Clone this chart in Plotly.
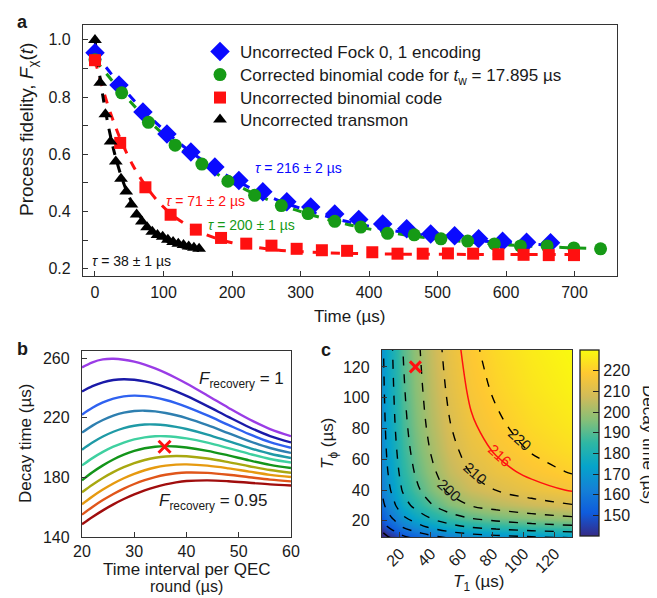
import plotly.graph_objects as go

# ---------------- Panel a data ----------------
fock_t = [0, 35, 70, 105, 140, 175, 210, 245, 280, 315, 350, 385, 420, 455, 490, 525, 560, 595, 630, 665]
fock_f = [0.955, 0.842, 0.748, 0.671, 0.608, 0.556, 0.509, 0.469, 0.434, 0.416, 0.392, 0.372, 0.357, 0.340,
          0.322, 0.316, 0.305, 0.296, 0.293, 0.291]
fock_fit = [0.955, 0.848, 0.755, 0.676, 0.608, 0.551, 0.503, 0.462, 0.428, 0.400, 0.376, 0.356, 0.340, 0.326,
            0.315, 0.306, 0.298, 0.292, 0.287, 0.283]

corr_t = [0, 39, 78, 117, 156, 194, 233, 272, 311, 350, 388, 427, 466, 505, 544, 583, 621, 660, 699, 738]
corr_f = [0.931, 0.815, 0.712, 0.632, 0.566, 0.506, 0.457, 0.421, 0.393, 0.366, 0.346, 0.324, 0.319, 0.305,
          0.297, 0.287, 0.280, 0.280, 0.273, 0.270]
corr_fit = [0.931, 0.818, 0.718, 0.636, 0.567, 0.509, 0.462, 0.423, 0.392, 0.366, 0.345, 0.328, 0.314, 0.303,
            0.294, 0.287, 0.281, 0.277, 0.273, 0.270]

binu_t = [0, 36.8, 73.6, 110.4, 147.2, 184, 220.8, 257.6, 294.4, 331.2, 368, 404.8, 441.6, 478.4, 515.2,
          552, 588.8, 625.6, 662.4, 699.2]
binu_f = [0.929, 0.640, 0.485, 0.389, 0.337, 0.308, 0.288, 0.281, 0.270, 0.265, 0.263, 0.258, 0.253, 0.253,
          0.254, 0.253, 0.251, 0.249, 0.248, 0.248]
binu_fit_t = [0, 10, 20, 30, 40, 55, 70, 90, 110, 130, 150, 175, 200, 250, 300, 400, 500, 600, 700]
binu_fit = [0.930, 0.841, 0.763, 0.696, 0.637, 0.563, 0.504, 0.441, 0.394, 0.359, 0.332, 0.308, 0.291,
            0.270, 0.260, 0.2525, 0.251, 0.250, 0.250]

tmon_t = [0, 7.6, 15.2, 22.8, 30.4, 38, 45.6, 53.2, 60.8, 68.4, 76, 83.6, 91.2, 98.8, 106.4, 114, 121.6,
          129.2, 136.8, 144.4, 152]
tmon_f = [1.0, 0.850, 0.740, 0.645, 0.575, 0.515, 0.470, 0.425, 0.390, 0.365, 0.345, 0.330, 0.318, 0.312,
          0.302, 0.294, 0.288, 0.283, 0.278, 0.274, 0.270]
tmon_fit_t = [0, 5, 10, 15, 20, 25, 30, 40, 50, 60, 75, 90, 110, 130, 152]
tmon_fit = [1.0, 0.9075, 0.826, 0.755, 0.693, 0.6385, 0.5906, 0.5118, 0.451, 0.4047, 0.354, 0.320, 0.291,
            0.2745, 0.2637]

# ---------------- Panel b data ----------------
interval_us = [20, 22, 24, 26, 28, 30, 32, 34, 36, 38, 40, 44, 48, 52, 56, 60]
f_recovery_curves = [
    [253.7, 257.15, 259.07, 259.47, 258.87, 257.54, 255.57, 253.02, 250.01, 246.6, 242.89, 234.89, 226.67, 218.93, 212.36, 207.6],
    [237.5, 241.13, 243.73, 245.28, 245.8, 245.42, 244.33, 242.61, 240.37, 237.67, 234.62, 227.78, 220.54, 213.6, 207.66, 203.4],
    [222.0, 226.61, 230.19, 232.75, 234.29, 234.8, 234.44, 233.42, 231.83, 229.76, 227.28, 221.49, 215.14, 208.95, 203.6, 199.8],
    [210.0, 214.67, 218.45, 221.34, 223.34, 224.45, 224.68, 224.2, 223.16, 221.64, 219.71, 214.98, 209.62, 204.3, 199.68, 196.4],
    [198.5, 203.33, 207.35, 210.57, 212.99, 214.59, 215.4, 215.43, 214.88, 213.85, 212.42, 208.67, 204.24, 199.74, 195.79, 193.0],
    [188.0, 192.88, 197.06, 200.54, 203.33, 205.42, 206.82, 207.51, 207.53, 207.03, 206.1, 203.25, 199.6, 195.75, 192.31, 189.9],
    [178.0, 183.37, 188.02, 191.95, 195.17, 197.68, 199.47, 200.54, 200.9, 200.67, 200.02, 197.76, 194.69, 191.38, 188.4, 186.3],
    [170.0, 175.1, 179.6, 183.5, 186.8, 189.5, 191.6, 193.1, 194.0, 194.3, 194.09, 192.62, 190.22, 187.46, 184.89, 183.1],
    [162.0, 167.2, 171.83, 175.9, 179.41, 182.36, 184.75, 186.58, 187.84, 188.54, 188.69, 187.84, 186.04, 183.81, 181.69, 180.2],
    [155.0, 160.13, 164.75, 168.86, 172.46, 175.53, 178.1, 180.16, 181.7, 182.72, 183.24, 182.97, 181.77, 180.1, 178.46, 177.3],
    [148.5, 153.41, 157.87, 161.88, 165.45, 168.58, 171.25, 173.48, 175.27, 176.61, 177.5, 177.97, 177.4, 176.37, 175.28, 174.5],
]
curve_colors = ["#9a3ce6", "#1a1aa8", "#2f62f0", "#2e7fb0", "#1f9aa6", "#3fd0a0",
                "#13951a", "#a8a810", "#e69a10", "#e0561a", "#a00d0d"]
b_marker_x = [35.8]
b_marker_y = [200.5]

# ---------------- Panel c data ----------------
T1_us = [8, 12, 16, 22, 30, 40, 52, 66, 82, 105, 131]
Tphi_us = [9, 12, 16, 22, 30, 40, 52, 66, 82, 105, 131]
decay_time = [
    [133.0, 138.1, 141.8, 147.2, 151.7, 156.4, 160.7, 163.9, 166.0, 168.2, 170.0],
    [137.9, 143.3, 147.3, 153.2, 158.0, 163.1, 167.8, 171.3, 173.6, 176.1, 178.0],
    [143.8, 149.7, 154.1, 160.5, 165.9, 171.5, 176.7, 180.6, 183.2, 185.9, 188.0],
    [150.2, 156.6, 161.4, 168.5, 174.4, 180.6, 186.3, 190.7, 193.6, 196.6, 199.0],
    [156.1, 163.0, 168.2, 176.0, 182.4, 189.2, 195.5, 200.3, 203.5, 206.8, 209.5],
    [159.9, 167.2, 172.7, 180.9, 187.7, 194.9, 201.6, 206.7, 210.1, 213.7, 216.5],
    [162.1, 169.6, 175.2, 183.7, 190.7, 198.1, 205.1, 210.4, 213.9, 217.6, 220.5],
    [163.7, 171.4, 177.1, 185.7, 192.9, 200.5, 207.7, 213.1, 216.7, 220.5, 223.5],
    [164.9, 172.7, 178.6, 187.3, 194.6, 202.4, 209.6, 215.2, 218.8, 222.7, 225.8],
    [166.1, 174.0, 179.9, 188.8, 196.2, 204.1, 211.5, 217.2, 220.9, 224.9, 228.0],
    [167.0, 175.0, 181.0, 190.0, 197.5, 205.5, 213.0, 218.7, 222.5, 226.5, 229.7],
]
c_marker_x = [30]
c_marker_y = [120]
dashed_levels = (140, 220, 10)
red_level = 216

parula = [[0, "#352a87"], [0.125, "#0f5cdd"], [0.25, "#1481d6"], [0.375, "#06a4ca"],
          [0.5, "#2eb7a4"], [0.625, "#87bf77"], [0.75, "#d1bb59"], [0.875, "#fec832"], [1, "#f9fb0e"]]

FONT = "Liberation Sans, Arial, Helvetica, sans-serif"
FS = 16
BLUE = "#0a0aff"
GREEN = "#169a16"
RED = "#ff1010"
INK = "#1a1a1a"
W, H = 657, 598

fig = go.Figure()

# --- panel a fits ---
for xs, ys, col in [(fock_t, fock_fit, BLUE), (corr_t, corr_fit, GREEN), (binu_fit_t, binu_fit, RED),
                    (tmon_fit_t, tmon_fit, "black")]:
    fig.add_trace(go.Scatter(x=xs, y=ys, mode="lines", line=dict(color=col, dash="dash", width=3, shape="spline"),
                             showlegend=False, hoverinfo="skip"))
# --- panel a markers (each in its own legend row) ---
fig.add_trace(go.Scatter(x=fock_t, y=fock_f, mode="markers", name="Uncorrected Fock 0, 1 encoding",
                         legend="legend", marker=dict(symbol="diamond", size=15, color=BLUE)))
fig.add_trace(go.Scatter(x=corr_t, y=corr_f, mode="markers",
                         name="Corrected binomial code for <i>t</i><sub>w</sub> = 17.895 µs",
                         legend="legend2", marker=dict(symbol="circle", size=13, color=GREEN)))
fig.add_trace(go.Scatter(x=binu_t, y=binu_f, mode="markers", name="Uncorrected binomial code",
                         legend="legend3", marker=dict(symbol="square", size=12, color=RED)))
fig.add_trace(go.Scatter(x=tmon_t, y=tmon_f, mode="markers", name="Uncorrected transmon",
                         legend="legend4", marker=dict(symbol="triangle-up", size=12, color="black")))

# --- panel b ---
for ys, col in zip(f_recovery_curves, curve_colors):
    fig.add_trace(go.Scatter(x=interval_us, y=ys, mode="lines", line=dict(color=col, width=2.4, shape="spline"),
                             xaxis="x2", yaxis="y2", showlegend=False))
fig.add_trace(go.Scatter(x=b_marker_x, y=b_marker_y, mode="markers", xaxis="x2", yaxis="y2", showlegend=False,
                         marker=dict(symbol="x-thin", size=12, line=dict(color=RED, width=3))))

# --- panel c ---
fig.add_trace(go.Heatmap(x=T1_us, y=Tphi_us, z=decay_time, zsmooth="best", colorscale=parula, zmin=140, zmax=230,
                         xaxis="x3", yaxis="y3", showlegend=False,
                         colorbar=dict(x=572 / W, xanchor="left", y=(H - 528) / H, yanchor="bottom",
                                       len=186 / H, lenmode="fraction", thickness=19, thicknessmode="pixels",
                                       outlinewidth=1.3, outlinecolor="#222", xpad=0, ypad=0,
                                       tickvals=[150, 160, 170, 180, 190, 200, 210, 220], ticks="inside",
                                       ticklen=6, tickcolor="#222", tickfont=dict(family=FONT, size=FS, color=INK))))
fig.add_trace(go.Contour(x=T1_us, y=Tphi_us, z=decay_time, xaxis="x3", yaxis="y3", showscale=False, showlegend=False,
                         contours=dict(start=dashed_levels[0], end=dashed_levels[1], size=dashed_levels[2], coloring="none"),
                         line=dict(color="black", dash="dash", width=1.4, smoothing=1.0), hoverinfo="skip"))
fig.add_trace(go.Contour(x=T1_us, y=Tphi_us, z=decay_time, xaxis="x3", yaxis="y3", showscale=False, showlegend=False,
                         contours=dict(start=red_level, end=red_level, size=1, coloring="none"),
                         line=dict(color=RED, width=1.5, smoothing=1.0), hoverinfo="skip"))
fig.add_trace(go.Scatter(x=c_marker_x, y=c_marker_y, mode="markers", xaxis="x3", yaxis="y3", showlegend=False,
                         marker=dict(symbol="x-thin", size=11, line=dict(color=RED, width=3))))

axis_common = dict(showline=True, mirror=True, linecolor="#333", linewidth=1.3, ticks="inside", ticklen=5,
                   tickcolor="#333", showgrid=False, zeroline=False, automargin=False,
                   tickfont=dict(family=FONT, size=FS, color=INK))

def dx(a, b):
    return [a / W, b / W]
def dy(top, bottom):
    return [1 - bottom / H, 1 - top / H]

def legend_row(y_px):
    return dict(x=192 / W, y=1 - y_px / H, xanchor="left", yanchor="middle", bgcolor="rgba(0,0,0,0)",
                font=dict(family=FONT, size=17, color=INK), itemwidth=30, borderwidth=0)

fig.update_layout(
    template="none",
    width=W, height=H, margin=dict(l=0, r=0, t=0, b=0, pad=0), autosize=False,
    paper_bgcolor="white", plot_bgcolor="white",
    font=dict(family=FONT, size=FS, color=INK),
    xaxis=dict(domain=dx(75, 609), range=[-17.5, 762], tickvals=[0, 100, 200, 300, 400, 500, 600, 700],
               ticklabelstandoff=2, **axis_common),
    yaxis=dict(domain=dy(17, 268), range=[0.175, 1.052], tickvals=[0.2, 0.4, 0.6, 0.8, 1.0],
               ticktext=["0.2", "0.4", "0.6", "0.8", "1.0"], ticklabelstandoff=8,
               minor=dict(dtick=0.1, tick0=0, ticks="inside", ticklen=5, tickcolor="#333"), **axis_common),
    xaxis2=dict(domain=dx(74, 283), range=[20, 60], dtick=10, anchor="y2", **axis_common),
    yaxis2=dict(domain=dy(343, 529), range=[140, 264.7], tickvals=[140, 180, 220, 260], anchor="x2",
                ticklabelstandoff=8, **axis_common),
    xaxis3=dict(domain=dx(374, 564), range=[8.5, 131], tickvals=[20, 40, 60, 80, 100, 120], tickangle=-45,
                anchor="y3", **axis_common),
    yaxis3=dict(domain=dy(342, 529), range=[9.5, 131], tickvals=[20, 40, 60, 80, 100, 120], anchor="x3",
                ticklabelstandoff=8, **axis_common),
    legend=legend_row(44), legend2=legend_row(67), legend3=legend_row(90), legend4=legend_row(112),
)

ann = []
def txt(x, y, s, ref=("paper", "paper"), color=INK, size=FS, angle=0, xa="center", bold=False):
    if ref == ("paper", "paper"):
        x, y = x / W, 1 - y / H
    ann.append(dict(x=x, y=y, xref=ref[0], yref=ref[1], text=("<b>%s</b>" % s if bold else s), showarrow=False,
                    font=dict(family=FONT, size=size, color=color), textangle=angle, xanchor=xa, yanchor="middle",
                    borderpad=0))

# panel letters
txt(14, 14, "a", size=18, bold=True)
txt(14, 341, "b", size=18, bold=True)
txt(318, 342, "c", size=18, bold=True)
# axis titles (pixel positions)
txt(342, 308, "Time (µs)", size=17)
txt(20, 122, "Process fidelity, <i>F</i><sub>χ</sub>(<i>t</i>)", angle=-90, size=19)
txt(178.5, 561, "Time interval per QEC", size=17)
txt(178.5, 578, "round (µs)", size=16)
txt(17, 436, "Decay time (µs)", angle=-90, size=17)
txt(470, 575, "<i>T</i><sub>1</sub> (µs)", size=17)
txt(321, 436, "<i>T</i><sub>ϕ</sub> (µs)", angle=-90, size=17)
txt(641, 436, "Decay time (µs)", angle=90, size=17)
# panel a fit labels
txt(296.6, 0.552, "<i>τ</i> = 216 ± 2 µs", ("x", "y"), color=BLUE, size=14)
txt(160.7, 0.437, "<i>τ</i> = 71 ± 2 µs", ("x", "y"), color=RED, size=14)
txt(228, 0.353, "<i>τ</i> = 200 ± 1 µs", ("x", "y"), color=GREEN, size=14)
txt(54, 0.227, "<i>τ</i> = 38 ± 1 µs", ("x", "y"), color="#111", size=14)
# panel b labels
txt(50.6, 245, "<i>F</i><sub>recovery</sub> = 1", ("x2", "y2"), size=17)
txt(45, 163.6, "<i>F</i><sub>recovery</sub> = 0.95", ("x2", "y2"), size=17)
# panel c contour labels
txt(52.3, 40, "200", ("x3", "y3"), size=15, angle=42)
txt(69, 51, "210", ("x3", "y3"), size=15, angle=42)
txt(84.5, 62.2, "216", ("x3", "y3"), color=RED, size=15, angle=42)
txt(97.4, 72.6, "220", ("x3", "y3"), size=15, angle=42)
fig.update_layout(annotations=ann)

fig.write_html("out.html")
